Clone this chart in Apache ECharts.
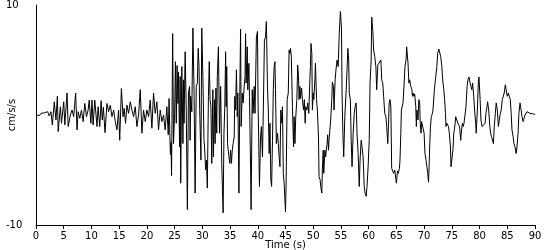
<!DOCTYPE html>
<html>
<head>
<meta charset="utf-8">
<script src="https://cdn.jsdelivr.net/npm/echarts@6/dist/echarts.min.js"></script>
<style>html,body{margin:0;padding:0;background:#fff}#c{width:550px;height:250px}</style>
</head>
<body>
<div id="c"></div>
<script>
// Time (s) of each turning point
const times = [0,0.3,0.6,0.9,1.2,1.5,1.8,2.1,2.4,2.7,2.95,3.3,3.6,3.85,4.0,4.4,4.6,5.0,5.2,5.6,5.8,6.2,6.5,6.8,7.15,7.4,7.6,7.9,8.2,8.5,8.8,9.1,9.4,9.6,9.9,10.1,10.3,10.6,11.0,11.2,11.5,11.75,11.95,12.15,12.45,12.8,13.1,13.4,13.7,14.0,14.3,14.6,14.9,15.1,15.4,15.7,15.9,16.15,16.4,16.7,17.0,17.3,17.6,17.9,18.2,18.5,18.8,19.1,19.4,19.7,20.0,20.3,20.6,20.9,21.2,21.5,21.8,22.1,22.4,22.7,23.0,23.3,23.6,23.85,24.0,24.15,24.25,24.35,24.45,24.65,24.8,25.0,25.15,25.3,25.45,25.6,25.7,25.9,26.0,26.1,26.3,26.5,26.6,26.7,26.9,27.1,27.3,27.5,27.7,27.8,27.9,28.1,28.3,28.5,28.7,28.9,29.1,29.25,29.4,29.55,29.75,29.9,30.1,30.3,30.4,30.6,30.75,30.9,31.1,31.25,31.4,31.55,31.7,31.9,32.0,32.2,32.3,32.45,32.6,32.7,32.9,33.1,33.3,33.5,33.75,33.9,34.05,34.2,34.3,34.4,34.55,34.8,34.95,35.1,35.25,35.4,35.55,35.75,35.85,36.0,36.15,36.3,36.4,36.6,36.75,36.9,37.0,37.2,37.35,37.55,37.7,37.8,37.9,38.1,38.2,38.4,38.5,38.7,38.8,39.0,39.15,39.35,39.5,39.75,39.95,40.05,40.2,40.3,40.5,40.65,40.85,41.0,41.2,41.4,41.55,41.75,41.9,42.05,42.2,42.35,42.5,42.65,42.8,42.95,43.1,43.25,43.35,43.55,43.7,43.85,44.0,44.15,44.35,44.45,44.6,44.75,44.9,45.0,45.1,45.3,45.5,45.65,45.8,45.9,46.05,46.25,46.45,46.55,46.7,46.85,47.05,47.2,47.35,47.45,47.6,47.7,47.9,48.05,48.25,48.4,48.55,48.65,48.85,49.0,49.2,49.4,49.5,49.6,49.75,49.85,50.0,50.1,50.3,50.4,50.6,50.75,50.95,51.05,51.25,51.35,51.55,51.65,51.8,51.9,52.1,52.25,52.4,52.5,52.6,52.75,52.85,53.15,53.35,53.45,53.65,53.75,53.95,54.1,54.3,54.5,54.7,54.9,55.1,55.2,55.35,55.5,55.7,55.95,56.1,56.25,56.4,56.5,56.7,56.85,57.0,57.2,57.4,57.55,57.75,57.9,58.1,58.3,58.45,58.65,58.8,59.0,59.2,59.35,59.55,59.7,59.9,60.1,60.25,60.45,60.55,60.75,60.9,61.1,61.3,61.45,61.65,61.8,62.0,62.2,62.35,62.55,62.7,62.9,63.1,63.25,63.45,63.6,63.7,63.85,64.0,64.15,64.35,64.5,64.7,65.0,65.2,65.35,65.55,65.65,65.8,65.9,66.2,66.4,66.55,66.75,66.85,67.0,67.1,67.25,67.4,67.6,67.8,67.9,68.0,68.2,68.3,68.5,68.6,68.7,68.9,69.05,69.2,69.3,69.45,69.55,69.7,69.8,70.0,70.15,70.35,70.5,70.65,70.8,70.9,71.0,71.15,71.3,71.5,71.6,71.85,72.1,72.3,72.45,72.65,72.8,73.0,73.2,73.35,73.55,73.7,73.85,73.95,74.1,74.25,74.4,74.55,74.75,74.85,75.1,75.2,75.35,75.45,75.6,75.7,75.85,75.95,76.1,76.3,76.4,76.6,76.7,76.9,77.05,77.2,77.4,77.55,77.75,77.9,78.1,78.3,78.45,78.6,78.75,78.95,79.1,79.3,79.4,79.6,79.8,79.9,80.1,80.25,80.45,80.6,80.8,81.0,81.15,81.35,81.45,81.65,81.85,82.0,82.15,82.3,82.5,82.65,82.85,83.0,83.2,83.4,83.55,83.75,83.9,84.1,84.3,84.45,84.65,84.8,85.0,85.2,85.35,85.55,85.7,85.85,86.05,86.2,86.4,86.6,86.75,86.95,87.1,87.3,87.5,87.65,87.85,88.0,88.2,88.4,88.55,88.8,89.1,89.7,90.0];
// Acceleration (cm/s/s) at each of those times
const accel = [0,0.05,-0.05,0.15,0,0.2,0.05,0.3,-0.1,0.3,-0.9,1.2,-0.45,1.7,-1.5,0.75,-0.75,1.2,-0.9,2.0,-1.05,0,0.45,-0.15,2.0,-1.35,0.3,-0.3,0.45,-0.6,1.05,-0.15,0.45,1.35,-0.75,1.35,-0.9,1.35,-1.05,0.75,-1.05,1.3,-0.45,0.7,-1.6,1.05,0.3,0.9,-0.15,0.45,-0.6,-1.35,0.45,-2.3,2.4,-0.15,0.6,-0.75,0.9,0.15,1.2,0.45,-0.15,0.75,-1.05,0,2.3,-1.65,0.45,-0.6,0.45,-0.15,1.35,-1.2,2.0,0.15,1.2,-1.35,0.45,-0.6,0,-1.35,0.75,-1.8,1.5,-2.0,-3.6,-2.5,-5.5,7.4,-2.6,0.15,4.85,-0.75,4.5,1.05,3.9,-2.9,3.5,-6.2,4.4,-2.6,3.2,-0.75,5.75,0.45,-8.6,2.0,2.6,-2.3,1.7,0.3,7.9,2.3,-7.1,2.6,2.9,6.05,4.4,-0.15,-4.1,7.9,3.5,-2.3,-2.9,-5.0,-4.1,-6.65,1.7,4.85,1.4,0.75,-4.4,2.3,-3.8,1.4,-2.6,2.45,-1.65,3.5,6.2,-1.65,2.6,-4.4,-8.9,-1.65,0.75,5.75,0.75,4.4,-2.6,-3.8,-4.4,-3.2,-4.4,-3.2,-2.6,-2.0,1.7,0.45,4.1,-0.15,2.0,-7.1,1.7,7.8,-1.05,2.0,1.1,2.6,3.5,7.4,2.9,6.2,2.3,4.7,1.7,-4.7,-8.6,2.3,0.15,2.6,0.15,7.1,7.6,1.1,-3.2,-6.5,-2.0,-1.05,-3.8,0.45,6.8,7.1,8.5,2.6,0.45,-3.5,-0.75,-5.9,-6.5,-2.3,2.3,4.4,4.85,0.45,-2.6,-1.65,-2.6,-3.8,-4.7,0.45,-0.75,0.75,-5.3,-6.2,-7.7,-8.8,-6.5,1.4,2.0,5.9,5.6,6.05,5.3,0.75,-2.9,-0.15,-2.6,-0.15,1.4,4.55,3.5,1.4,2.6,1.5,2.45,1.4,0.45,1.4,-0.75,0.75,0.45,1.1,0.15,3.3,4.4,6.5,5.6,0.45,2.0,1.4,3.2,4.7,1.4,0.45,-2.0,-5.6,-5.9,-6.5,-7.1,-5.0,-3.2,-5.3,-3.2,-3.8,-2.9,-2.7,-1.8,-3.2,-2.3,-0.45,1.4,3.0,2.6,0.45,3.2,4.1,5.0,4.4,7.4,9.4,7.9,2.0,-1.65,-3.8,-0.15,2.3,4.1,6.05,5.0,2.0,1.4,-2.3,-4.7,-1.65,0.15,0.75,1.1,-1.65,-3.5,-6.5,-4.1,-2.3,-2.9,-3.8,-6.5,-7.1,-7.4,-6.5,-4.7,-2.3,2.9,5.0,8.9,7.7,5.9,5.3,4.4,2.3,4.55,4.4,4.7,5.0,3.2,2.9,1.7,0.15,-0.15,-1.05,-2.6,-0.45,1.1,1.4,0.75,-4.85,-5.0,-5.3,-5.0,-6.2,-5.1,-5.3,-4.85,-4.1,-1.65,0.45,1.1,2.9,4.4,5.0,6.2,6.35,4.7,2.9,3.2,2.6,2.3,1.7,2.0,1.7,1.9,0.75,-1.05,0.45,-0.45,1.4,1.1,-0.75,-1.65,-0.6,-0.75,-0.75,-1.65,-3.5,-4.1,-4.7,-5.3,-6.1,-4.7,-2.9,-1.05,-0.15,0.15,0.45,2.3,3.5,4.4,5.6,6.0,5.9,5.3,4.4,3.2,2.3,1.4,0.15,-1.05,-0.75,-0.75,-1.05,-1.65,-2.9,-4.7,-4.85,-3.2,-1.65,-1.35,-0.75,-0.15,0,-0.15,-0.75,-0.6,-1.05,-2.3,-1.65,-0.75,-1.05,-0.75,-0.75,0.75,2.6,3.2,3.45,2.9,2.6,2.3,2.9,1.7,0.45,-0.75,-1.65,0.45,3.2,3.45,1.4,-0.45,-1.05,-0.9,-1.05,-0.75,0.15,0.75,1.2,0.45,-1.05,-1.65,-1.95,-1.95,-2.6,-1.05,0.15,1.1,0.45,-1.05,-0.45,0.15,0.45,1.4,1.4,2.0,2.75,2.3,1.7,2.0,1.7,1.4,0.15,-1.35,-1.95,-2.6,-2.9,-3.5,-2.9,-1.65,0.15,1.1,0.45,-0.15,-0.6,-0.45,0,0.15,0.3,0.3,0.15,0.1,0.05];
const xTicks = {min: 0, max: 90, step: 5};
const yTicks = {min: -10, max: 10, step: 10};
const xName = 'Time (s)';
const yName = 'cm/s/s';

const data = times.map((t, i) => [t, accel[i]]);
const font = 'DejaVu Sans';
const chart = echarts.init(document.getElementById('c'), null, {renderer: 'canvas'});
chart.setOption({
  animation: false,
  backgroundColor: '#fff',
  grid: {left: 36, right: 15, top: 5, bottom: 25, containLabel: false, outerBoundsMode: 'none'},
  xAxis: {
    type: 'value', min: xTicks.min, max: xTicks.max, interval: xTicks.step,
    name: xName, nameLocation: 'middle', nameGap: 15, nameMoveOverlap: false,
    nameTextStyle: {color: '#000', fontFamily: font, fontSize: 10},
    axisLine: {show: true, onZero: false, lineStyle: {color: '#000', width: 1}},
    axisTick: {show: true, length: 4, lineStyle: {color: '#000'}},
    axisLabel: {color: '#000', fontFamily: font, fontSize: 10, margin: 6},
    splitLine: {show: false}
  },
  yAxis: {
    type: 'value', min: yTicks.min, max: yTicks.max, interval: yTicks.step,
    name: yName, nameLocation: 'middle', nameGap: 19, nameRotate: 90, nameMoveOverlap: false,
    nameTextStyle: {color: '#000', fontFamily: font, fontSize: 10},
    axisLine: {show: true, onZero: false, lineStyle: {color: '#000', width: 1}},
    axisTick: {show: false},
    axisLabel: {color: '#000', fontFamily: font, fontSize: 10, align: 'left', margin: 30,
      formatter: v => (v === 0 ? '' : String(v))},
    splitLine: {show: false}
  },
  series: [{
    type: 'line', data: data, showSymbol: false, symbol: 'none',
    lineStyle: {color: '#000', width: 1}, silent: true
  }]
});
</script>
</body>
</html>
